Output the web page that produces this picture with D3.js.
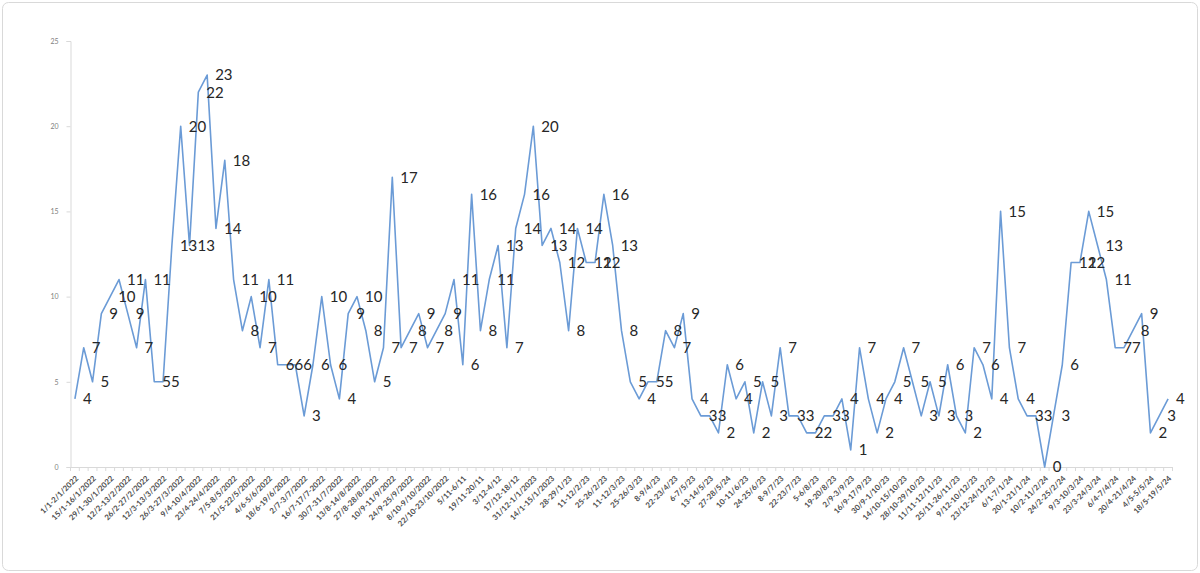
<!DOCTYPE html>
<html>
<head>
<meta charset="utf-8">
<script src="https://cdnjs.cloudflare.com/ajax/libs/d3/7.8.5/d3.min.js"></script>
<style>
  html, body { margin: 0; padding: 0; background: #fff; }
  svg { display: block; }
</style>
</head>
<body>
<svg id="chart" width="1200" height="573"></svg>
<script>
// weekly counts, one per weekend (125 points)
var values = [
  4, 7, 5, 9, 10, 11, 9, 7, 11, 5,
  5, 13, 20, 13, 22, 23, 14, 18, 11, 8,
  10, 7, 11, 6, 6, 6, 3, 6, 10, 6,
  4, 9, 10, 8, 5, 7, 17, 7, 8, 9,
  7, 8, 9, 11, 6, 16, 8, 11, 13, 7,
  14, 16, 20, 13, 14, 12, 8, 14, 12, 12,
  16, 13, 8, 5, 4, 5, 5, 8, 7, 9,
  4, 3, 3, 2, 6, 4, 5, 2, 5, 3,
  7, 3, 3, 2, 2, 3, 3, 4, 1, 7,
  4, 2, 4, 5, 7, 5, 3, 5, 3, 6,
  3, 2, 7, 6, 4, 15, 7, 4, 3, 3,
  0, 3, 6, 12, 12, 15, 13, 11, 7, 7,
  8, 9, 2, 3, 4
];

// category labels shown on every other point
var tickLabels = [
  "1/1-2/1/2022", "15/1-16/1/2022", "29/1-30/1/2022", "12/2-13/2/2022", "26/2-27/2/2022",
  "12/3-13/3/2022", "26/3-27/3/2022", "9/4-10/4/2022", "23/4-24/4/2022", "7/5-8/5/2022",
  "21/5-22/5/2022", "4/6-5/6/2022", "18/6-19/6/2022", "2/7-3/7/2022", "16/7-17/7-2022",
  "30/7-31/7/2022", "13/8-14/8/2022", "27/8-28/8/2022", "10/9-11/9/2022", "24/9-25/9/2022",
  "8/10-9/10/2022", "22/10-23/10/2022", "5/11-6/11", "19/11-20/11", "3/12-4/12",
  "17/12-18/12", "31/12-1/1/2023", "14/1-15/1/2023", "28-29/1/23", "11-12/2/23",
  "25-26/2/23", "11-12/3/23", "25-26/3/23", "8-9/4/23", "22-23/4/23",
  "6-7/5/23", "13-14/5/23", "27-28/5/24", "10-11/6/23", "24-25/6/23",
  "8-9/7/23", "22-23/7/23", "5-6/8/23", "19-20/8/23", "2/9-3/9/23",
  "16/9-17/9/23", "30/9-1/10/23", "14/10-15/10/23", "28/10-29/10/23", "11/11-12/11/23",
  "25/11-26/11/23", "9/12-10/12/23", "23/12-24/12/23", "6/1-7/1/24", "20/1-21/1/24",
  "10/2-11/2/24", "24/2-25/2/24", "9/3-10/3/24", "23/3-24/3/24", "6/4-7/4/24",
  "20/4-21/4/24", "4/5-5/5/24", "18/5-19/5/24"
];

var yTicks = [0, 5, 10, 15, 20, 25];

var svg = d3.select("#chart"),
    width = +svg.attr("width"),
    height = +svg.attr("height"),
    plotLeft = 70.5, plotRight = 1172.5, plotTop = 41, plotBottom = 467;

// chart frame
svg.append("rect")
    .attr("x", 2.5).attr("y", 2.5)
    .attr("width", width - 5).attr("height", height - 5)
    .attr("rx", 6)
    .attr("fill", "#fff")
    .attr("stroke", "#d9d9d9");

var x = d3.scaleBand()
    .domain(d3.range(values.length))
    .range([plotLeft, plotRight]);

var y = d3.scaleLinear()
    .domain([0, 25])
    .range([plotBottom, plotTop]);

function cx(i) { return x(i) + x.bandwidth() / 2; }

// y axis
var yAxis = svg.append("g")
    .attr("transform", "translate(" + plotLeft + ",0)")
    .call(d3.axisLeft(y).tickValues(yTicks).tickSize(4).tickPadding(8));
yAxis.select(".domain").attr("stroke", "#d9d9d9");
yAxis.selectAll(".tick line").attr("stroke", "#d9d9d9");
yAxis.selectAll(".tick text")
    .attr("fill", "#7f7f7f")
    .style("font", "7px Lato, 'Open Sans', sans-serif");

// x axis: line + ticks between categories
var xAxis = svg.append("g");
xAxis.append("line")
    .attr("x1", plotLeft).attr("x2", plotRight)
    .attr("y1", plotBottom + 0.5).attr("y2", plotBottom + 0.5)
    .attr("stroke", "#d9d9d9");
xAxis.selectAll("line.tk")
    .data(d3.range(values.length + 1))
    .enter().append("line")
    .attr("class", "tk")
    .attr("x1", function (d) { return plotLeft + d * x.bandwidth(); })
    .attr("x2", function (d) { return plotLeft + d * x.bandwidth(); })
    .attr("y1", plotBottom).attr("y2", plotBottom + 4)
    .attr("stroke", "#d9d9d9");

xAxis.selectAll("text")
    .data(tickLabels)
    .enter().append("text")
    .attr("transform", function (d, k) {
        return "translate(" + (cx(k * 2) + 2) + "," + (plotBottom + 10) + ") rotate(-45)";
    })
    .attr("text-anchor", "end")
    .attr("dy", "0.35em")
    .attr("fill", "#4d4d4d")
    .style("font", "bold 7.8px Lato, 'Open Sans', sans-serif")
    .text(function (d) { return d; });

// the series line
var line = d3.line()
    .x(function (d, i) { return cx(i); })
    .y(function (d) { return y(d); });

svg.append("path")
    .datum(values)
    .attr("d", line)
    .attr("fill", "none")
    .attr("stroke", "#6b9bd6")
    .attr("stroke-width", 1.6)
    .attr("stroke-linejoin", "round");

// data labels to the right of each point
svg.append("g").selectAll("text")
    .data(values)
    .enter().append("text")
    .attr("x", function (d, i) { return cx(i) + 8; })
    .attr("y", function (d) { return y(d); })
    .attr("dy", "0.36em")
    .attr("fill", "#262626")
    .style("font", "15px Lato, 'Open Sans', sans-serif")
    .text(function (d) { return d; });
</script>
</body>
</html>
